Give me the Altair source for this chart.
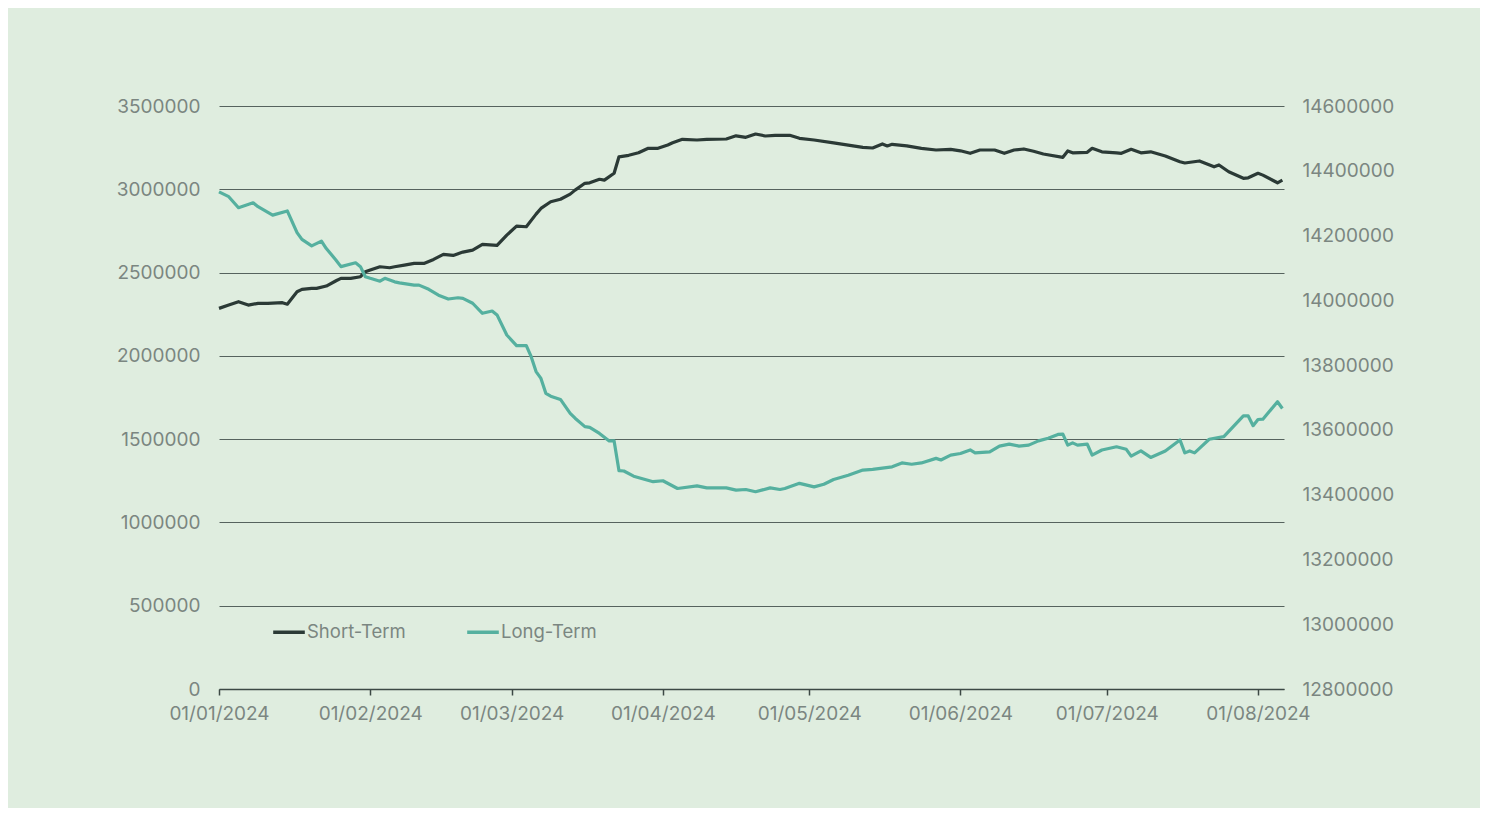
import altair as alt
import pandas as pd

# Short-Term holders (left axis)
st_dates = [
    "2024-01-01", "2024-01-03", "2024-01-05", "2024-01-07", "2024-01-09", "2024-01-11", "2024-01-14", "2024-01-15",
    "2024-01-17", "2024-01-18", "2024-01-20", "2024-01-21", "2024-01-23", "2024-01-25", "2024-01-26", "2024-01-28",
    "2024-01-30", "2024-01-31",
    "2024-02-01", "2024-02-03", "2024-02-05", "2024-02-06", "2024-02-08", "2024-02-10", "2024-02-12", "2024-02-14",
    "2024-02-16", "2024-02-18", "2024-02-20", "2024-02-22", "2024-02-24", "2024-02-27", "2024-02-29",
    "2024-03-02", "2024-03-04", "2024-03-06", "2024-03-07", "2024-03-09", "2024-03-11", "2024-03-13", "2024-03-14",
    "2024-03-16", "2024-03-17", "2024-03-19", "2024-03-20", "2024-03-22", "2024-03-23", "2024-03-25", "2024-03-27",
    "2024-03-29", "2024-03-31",
    "2024-04-02", "2024-04-03", "2024-04-05", "2024-04-08", "2024-04-10", "2024-04-14", "2024-04-16", "2024-04-18",
    "2024-04-20", "2024-04-22", "2024-04-24", "2024-04-27", "2024-04-29",
    "2024-05-02", "2024-05-06", "2024-05-08", "2024-05-12", "2024-05-14", "2024-05-16", "2024-05-17", "2024-05-18",
    "2024-05-21", "2024-05-24", "2024-05-27", "2024-05-30",
    "2024-06-01", "2024-06-03", "2024-06-05", "2024-06-08", "2024-06-10", "2024-06-12", "2024-06-14", "2024-06-16",
    "2024-06-18", "2024-06-22", "2024-06-23", "2024-06-24", "2024-06-27", "2024-06-28", "2024-06-30",
    "2024-07-03", "2024-07-04", "2024-07-06", "2024-07-08", "2024-07-10", "2024-07-13", "2024-07-16", "2024-07-17",
    "2024-07-20", "2024-07-23", "2024-07-24", "2024-07-26", "2024-07-29", "2024-07-30",
    "2024-08-01", "2024-08-02", "2024-08-05", "2024-08-06",
]
st_values = [
    2285000, 2305000, 2325000, 2305000, 2315000, 2315000, 2319000, 2310000,
    2385000, 2399000, 2405000, 2405000, 2419000, 2451000, 2465000, 2465000,
    2475000, 2505000,
    2515000, 2535000, 2529000, 2535000, 2545000, 2555000, 2555000, 2579000,
    2609000, 2603000, 2623000, 2635000, 2669000, 2663000, 2725000,
    2779000, 2775000, 2851000, 2885000, 2925000, 2940000, 2971000, 2995000,
    3036000, 3039000, 3060000, 3055000, 3096000, 3195000, 3204000, 3219000,
    3246000, 3246000,
    3266000, 3279000, 3300000, 3296000, 3300000, 3302000, 3321000, 3312000,
    3332000, 3320000, 3324000, 3324000, 3306000,
    3296000, 3279000, 3270000, 3252000, 3248000, 3272000, 3260000, 3270000,
    3261000, 3246000, 3236000, 3240000,
    3231000, 3216000, 3236000, 3236000, 3216000, 3236000, 3242000, 3228000,
    3212000, 3192000, 3230000, 3219000, 3222000, 3246000, 3225000,
    3219000, 3216000, 3240000, 3219000, 3225000, 3200000, 3165000, 3158000,
    3170000, 3135000, 3146000, 3105000, 3066000, 3069000,
    3096000, 3085000, 3039000, 3055000,
]

# Long-Term holders (right axis)
lt_dates = [
    "2024-01-01", "2024-01-03", "2024-01-05", "2024-01-08", "2024-01-09", "2024-01-12", "2024-01-15", "2024-01-17",
    "2024-01-18", "2024-01-20", "2024-01-22", "2024-01-23", "2024-01-25", "2024-01-26", "2024-01-29", "2024-01-30",
    "2024-01-31",
    "2024-02-01", "2024-02-03", "2024-02-04", "2024-02-06", "2024-02-07", "2024-02-10", "2024-02-11", "2024-02-13",
    "2024-02-15", "2024-02-17", "2024-02-19", "2024-02-20", "2024-02-22", "2024-02-24", "2024-02-26", "2024-02-27",
    "2024-02-29",
    "2024-03-02", "2024-03-04", "2024-03-05", "2024-03-06", "2024-03-07", "2024-03-08", "2024-03-09", "2024-03-11",
    "2024-03-13", "2024-03-14", "2024-03-16", "2024-03-17", "2024-03-19", "2024-03-21", "2024-03-22", "2024-03-23",
    "2024-03-24", "2024-03-26", "2024-03-30",
    "2024-04-01", "2024-04-04", "2024-04-08", "2024-04-10", "2024-04-14", "2024-04-16", "2024-04-18", "2024-04-20",
    "2024-04-23", "2024-04-25", "2024-04-26", "2024-04-29",
    "2024-05-02", "2024-05-04", "2024-05-06", "2024-05-09", "2024-05-12", "2024-05-14", "2024-05-18", "2024-05-20",
    "2024-05-22", "2024-05-24", "2024-05-27", "2024-05-28", "2024-05-30",
    "2024-06-01", "2024-06-03", "2024-06-04", "2024-06-07", "2024-06-09", "2024-06-11", "2024-06-13", "2024-06-15",
    "2024-06-17", "2024-06-19", "2024-06-21", "2024-06-22", "2024-06-23", "2024-06-24", "2024-06-25", "2024-06-27",
    "2024-06-28", "2024-06-30",
    "2024-07-03", "2024-07-05", "2024-07-06", "2024-07-08", "2024-07-10", "2024-07-13", "2024-07-16", "2024-07-17",
    "2024-07-18", "2024-07-19", "2024-07-20", "2024-07-22", "2024-07-25", "2024-07-29", "2024-07-30", "2024-07-31",
    "2024-08-01", "2024-08-02", "2024-08-05", "2024-08-06",
]
lt_values = [
    14335000, 14320000, 14286000, 14301000, 14289000, 14263000, 14276000, 14209000,
    14188000, 14168000, 14183000, 14160000, 14124000, 14104000, 14116000, 14104000,
    14073000,
    14068000, 14059000, 14068000, 14057000, 14054000, 14047000, 14047000, 14034000,
    14016000, 14004000, 14008000, 14006000, 13991000, 13960000, 13967000, 13955000,
    13893000,
    13860000, 13860000, 13826000, 13780000, 13759000, 13713000, 13704000, 13694000,
    13651000, 13636000, 13610000, 13608000, 13589000, 13566000, 13566000, 13474000,
    13473000, 13457000, 13440000,
    13443000, 13419000, 13427000, 13421000, 13421000, 13414000, 13416000, 13409000,
    13421000, 13416000, 13419000, 13435000,
    13424000, 13432000, 13447000, 13460000, 13476000, 13478000, 13486000, 13498000,
    13494000, 13498000, 13512000, 13507000, 13522000,
    13527000, 13538000, 13529000, 13532000, 13550000, 13556000, 13550000, 13553000,
    13566000, 13574000, 13586000, 13587000, 13553000, 13560000, 13553000, 13556000,
    13522000, 13538000,
    13548000, 13540000, 13519000, 13535000, 13515000, 13535000, 13569000, 13529000,
    13535000, 13529000, 13543000, 13571000, 13579000, 13643000, 13643000, 13613000,
    13632000, 13633000, 13687000, 13666000,
]

series_names = ["Short-Term", "Long-Term"]
series_colors = ["#2b3a36", "#55b09f"]
left_ticks = [0, 500000, 1000000, 1500000, 2000000, 2500000, 3000000, 3500000]
right_ticks = [12800000, 13000000, 13200000, 13400000, 13600000, 13800000, 14000000, 14200000, 14400000, 14600000]

st_df = pd.DataFrame({"date": st_dates, "value": st_values, "series": series_names[0]})
lt_df = pd.DataFrame({"date": lt_dates, "value": lt_values, "series": series_names[1]})

FONT = "Inter"
LABEL = "#7b8681"
GRID = "#56635e"

x_enc = alt.X(
    "date:T",
    scale=alt.Scale(
        type="utc",
        domain=[
            alt.DateTime(year=2024, month=1, date=1, utc=True),
            alt.DateTime(year=2024, month=8, date=6, hours=8, utc=True),
        ],
    ),
    axis=alt.Axis(
        title=None,
        labelExpr="utcFormat(datum.value, '%d/%m/%Y')",
        values=[alt.DateTime(year=2024, month=m, date=1, utc=True) for m in range(1, 9)],
        grid=False,
        domainColor="#3c4945",
        domainWidth=1.5,
        tickColor="#3c4945",
        tickWidth=1.5,
        tickSize=6,
        labelPadding=9,
        labelOverlap=False,
        labelFlush=False,
        labelBound=False,
        labelAlign="center",
        labelFont=FONT,
        labelFontSize=19,
        labelColor=LABEL,
    ),
)

legend = alt.Legend(
    title=None,
    orient="none",
    legendX=52,
    legendY=508,
    direction="horizontal",
    symbolType="stroke",
    symbolStrokeWidth=3.5,
    symbolSize=1000,
    labelFont=FONT,
    labelFontSize=18.5,
    labelColor=LABEL,
    labelOffset=0,
    columnPadding=54,
)
color_enc = alt.Color(
    "series:N",
    scale=alt.Scale(domain=series_names, range=series_colors),
    legend=legend,
)

short_line = alt.Chart(st_df).mark_line(strokeWidth=3.2, strokeJoin="round").encode(
    x=x_enc,
    y=alt.Y(
        "value:Q",
        scale=alt.Scale(domain=[0, 3500000], nice=False, zero=False),
        axis=alt.Axis(
            title=None,
            orient="left",
            values=left_ticks,
            format="d",
            grid=True,
            gridColor=GRID,
            gridWidth=1,
            domain=False,
            ticks=False,
            labelPadding=19,
            labelFont=FONT,
            labelFontSize=19,
            labelColor=LABEL,
        ),
    ),
    color=color_enc,
)

long_line = alt.Chart(lt_df).mark_line(strokeWidth=3.2, strokeJoin="round").encode(
    x=x_enc,
    y=alt.Y(
        "value:Q",
        scale=alt.Scale(domain=[12800000, 14600000], nice=False, zero=False),
        axis=alt.Axis(
            title=None,
            orient="right",
            values=right_ticks,
            format="d",
            grid=False,
            domain=False,
            ticks=False,
            labelPadding=18,
            labelFont=FONT,
            labelFontSize=19,
            labelColor=LABEL,
        ),
    ),
    color=color_enc,
)

chart = (
    alt.layer(short_line, long_line)
    .resolve_scale(y="independent")
    .properties(
        width=1065,
        height=583,
        autosize=alt.AutoSizeParams(type="none"),
        padding={"left": 211, "top": 98, "right": 196, "bottom": 119},
        background="#dfeddf",
    )
    .configure_view(stroke=None)
)

chart.save("out.html", embed_options={"renderer": "svg", "actions": False})
